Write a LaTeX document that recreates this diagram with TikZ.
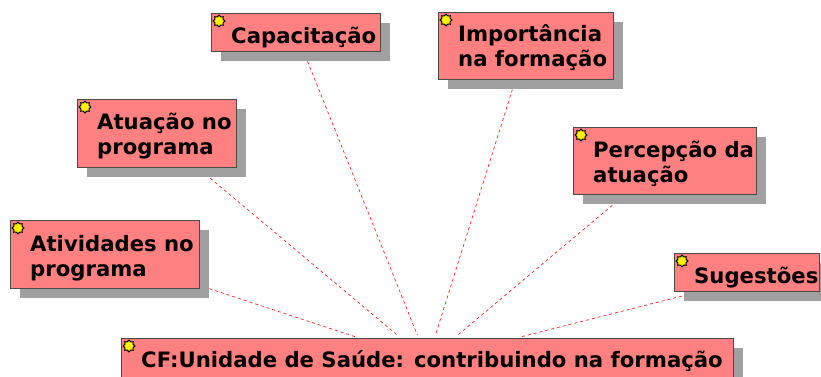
\documentclass[tikz,border=0pt]{standalone}
\usepackage{fontspec}
\setmainfont{DejaVu Sans}
\usetikzlibrary{shadows,shapes.geometric,backgrounds,calc}
\definecolor{boxfill}{HTML}{FF8080}
\definecolor{boxline}{HTML}{4A4A4A}
\definecolor{shadowgray}{HTML}{A0A0A0}
\definecolor{linkred}{HTML}{FF2020}
% #1 name, #2 x, #3 y, #4 width, #5 height, #6 baseline offset of last line, #7 text
\newcommand{\umlnode}[7]{%
  \node[umlbox, minimum width=#4pt, minimum height=#5pt] (#1) at (#2,#3) {};
  \node[icon] (#1-icon) at ($(#1.north west)+(8,8)$) {};
  \node[lbl] (#1-text) at ($(#1.north west)+(20,#6)$) {#7};}
\begin{document}
\begin{tikzpicture}[x=1pt,y=-1pt,
  umlbox/.style={draw=boxline, line width=1pt, fill=boxfill, anchor=north west, inner sep=0pt,
    drop shadow={shadow xshift=9pt, shadow yshift=-9pt, fill=shadowgray, opacity=1}},
  lbl/.style={anchor=base west, inner sep=0pt, align=left, font=\bfseries\fontsize{21.2}{25}\selectfont},
  icon/.style={star, star points=8, star point ratio=1.35, minimum size=12pt, inner sep=0pt,
    fill=yellow, draw=black, line width=1pt},
  link/.style={draw=linkred, dash pattern=on 3pt off 3pt, line width=0.7pt, shorten <=10pt, shorten >=3pt}]
\useasboundingbox (0,0) rectangle (821,376);
\clip (0,0) rectangle (821,376);
\umlnode{cap}{211}{13}{169}{38}{30}{Capacitação}
\umlnode{imp}{438}{12}{175}{67}{54}{Importância\\na formação}
\umlnode{atu}{77}{99}{159}{68}{55}{Atuação no\\programa}
\umlnode{per}{573}{127}{183}{67}{55}{Percepção da\\atuação}
\umlnode{ati}{10}{220}{189}{68}{56}{Atividades no\\programa}
\umlnode{sug}{674}{253}{145}{38}{30}{Sugestões}
\umlnode{cf}{121}{338}{612}{44}{29}{CF:Unidade de Saúde: contribuindo na formação}
\coordinate (sug-src) at ($(sug.center)+(28,0)$);
\begin{pgfonlayer}{background}
  \draw[link] (cap) -- (cf);
  \draw[link] (imp) -- (cf);
  \draw[link] (atu) -- (cf);
  \draw[link] (per) -- (cf);
  \draw[link] (ati) -- (cf);
  \draw[link, shorten <=0pt] (sug-src) -- (cf);
\end{pgfonlayer}
\end{tikzpicture}
\end{document}
